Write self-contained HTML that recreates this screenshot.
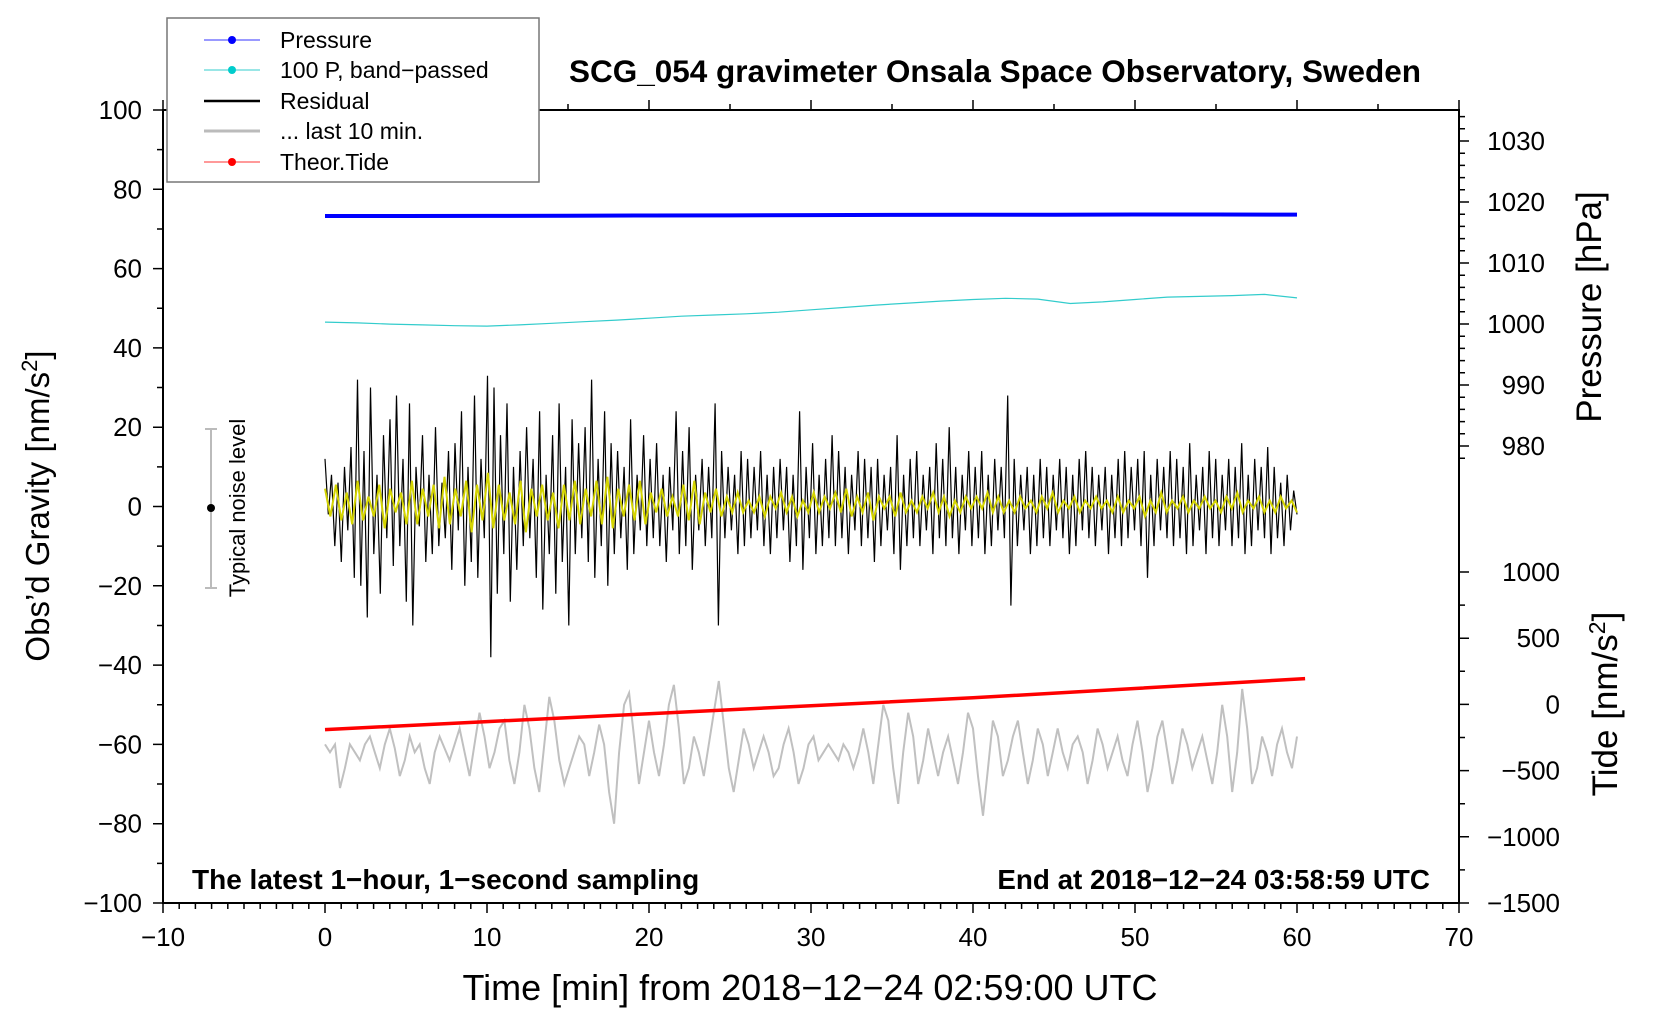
<!DOCTYPE html>
<html><head><meta charset="utf-8"><style>
html,body{margin:0;padding:0;background:#fff;}
svg{display:block;font-family:"Liberation Sans",sans-serif;}
</style></head><body>
<svg id="chart" width="1660" height="1020" viewBox="0 0 1660 1020" xmlns="http://www.w3.org/2000/svg">
<rect width="1660" height="1020" fill="#fff"/>
<g id="marks"></g>
<g id="axes"></g>
<text x="995" y="82" text-anchor="middle" font-size="31.5" font-weight="bold">SCG_054 gravimeter Onsala Space Observatory, Sweden</text>
<text x="810" y="1000" text-anchor="middle" font-size="36">Time [min] from 2018−12−24 02:59:00 UTC</text>
<text transform="translate(49,506) rotate(-90)" text-anchor="middle" font-size="33">Obs’d Gravity [nm/s<tspan dy="-12" font-size="22">2</tspan><tspan dy="12">]</tspan></text>
<text transform="translate(1601,307) rotate(-90)" text-anchor="middle" font-size="35">Pressure [hPa]</text>
<text transform="translate(1617,704) rotate(-90)" text-anchor="middle" font-size="35">Tide [nm/s<tspan dy="-12" font-size="23">2</tspan><tspan dy="12">]</tspan></text>
<text x="192" y="889" font-size="28" font-weight="bold">The latest 1−hour, 1−second sampling</text>
<text x="1430" y="889" text-anchor="end" font-size="27.8" font-weight="bold">End at 2018−12−24 03:58:59 UTC</text>
<g>
<line x1="211" y1="429" x2="211" y2="588" stroke="#bbb" stroke-width="2"/>
<line x1="205" y1="429" x2="217" y2="429" stroke="#bbb" stroke-width="2"/>
<line x1="205" y1="588" x2="217" y2="588" stroke="#bbb" stroke-width="2"/>
<circle cx="211" cy="508" r="4" fill="#000"/>
<text transform="translate(245,508) rotate(-90)" text-anchor="middle" font-size="22">Typical noise level</text>
</g>
<g>
<rect x="167" y="18" width="372" height="164" fill="#fff" stroke="#777" stroke-width="1.5"/>
<g><line x1="204" y1="40" x2="260" y2="40" stroke="#3333ff" stroke-width="1"/><circle cx="232" cy="40" r="4" fill="#0000ff"/><text x="280" y="48" font-size="23">Pressure</text></g>
<g><line x1="204" y1="70" x2="260" y2="70" stroke="#33cccc" stroke-width="1"/><circle cx="232" cy="70" r="4" fill="#00cccc"/><text x="280" y="78" font-size="23">100 P, band−passed</text></g>
<g><line x1="204" y1="101" x2="260" y2="101" stroke="#000" stroke-width="2.5"/><text x="280" y="109" font-size="23">Residual</text></g>
<g><line x1="204" y1="131" x2="260" y2="131" stroke="#bbb" stroke-width="3"/><text x="280" y="139" font-size="23">... last 10 min.</text></g>
<g><line x1="204" y1="162" x2="260" y2="162" stroke="#ff3333" stroke-width="1"/><circle cx="232" cy="162" r="4" fill="#ff0000"/><text x="280" y="170" font-size="23">Theor.Tide</text></g>
</g>
</svg>
<script>
const xTicks=[-10,0,10,20,30,40,50,60,70];
const yTicks=[-100,-80,-60,-40,-20,0,20,40,60,80,100];
const pTicks=[980,990,1000,1010,1020,1030];
const tTicks=[-1500,-1000,-500,0,500,1000];
const pressure=[1017.7,1017.7,1017.72,1017.75,1017.78,1017.8,1017.85,1017.88,1017.9,1017.9,1017.95,1017.95,1017.93];
const bandpassed=[46.5,46.3,46,45.8,45.6,45.5,45.8,46.2,46.6,47,47.5,48,48.3,48.6,49,49.6,50.2,50.8,51.3,51.8,52.2,52.5,52.3,51.2,51.6,52.2,52.8,53,53.2,53.5,52.6];
const residual=[12,-2,8,-10,6,-14,10,-6,15,-18,32,-20,14,-28,30,-12,8,-22,18,-8,22,-15,28,-10,12,-24,26,-30,10,-5,18,-14,8,-12,20,-10,6,-8,14,-16,16,-6,24,-20,10,-14,28,-18,12,-8,33,-38,30,-22,18,-12,26,-24,10,-16,14,-10,20,-8,12,-18,24,-26,8,-12,18,-22,26,-14,10,-30,22,-12,16,-8,20,-14,32,-18,12,-10,24,-20,16,-12,14,-8,10,-16,22,-12,8,-6,18,-10,
12,-8,16,-10,8,-14,10,-6,24,-12,14,-10,20,-16,8,-6,12,-10,10,-8,26,-30,14,-8,10,-6,8,-12,14,-10,12,-8,10,-6,14,-10,8,-12,10,-8,12,-6,10,-14,8,-10,24,-16,10,-8,16,-12,8,-10,12,-8,18,-10,14,-8,10,-12,8,-6,14,-10,12,-8,10,-14,12,-10,8,-6,10,-12,18,-16,8,-10,12,-8,14,-10,8,-6,10,-12,16,-8,12,-10,20,-8,10,-12,8,-6,14,-10,
10,-8,14,-12,8,-10,12,-6,10,-8,28,-25,12,-10,8,-6,10,-12,8,-10,12,-8,10,-10,8,-6,12,-8,10,-12,8,-10,12,-6,14,-8,10,-10,8,-6,10,-12,8,-8,12,-10,14,-8,10,-6,12,-10,14,-18,8,-10,12,-6,10,-8,14,-10,12,-8,10,-12,16,-10,8,-6,10,-12,14,-8,12,-10,8,-6,12,-10,10,-8,16,-12,8,-10,12,-6,10,-8,15,-12,10,-8,6,-10,8,-6,4,-2];
const smoothed=[4,-3,5,-4,3,-5,6,-4,2,-3,5,-6,4,-2,3,-5,6,-5,4,-3,5,-6,7,-5,4,-3,6,-7,5,-4,8,-6,5,-4,3,-5,6,-7,4,-3,5,-4,3,-6,5,-4,6,-5,4,-3,6,-5,7,-6,4,-3,5,-4,6,-5,
3,-2,4,-3,2,-3,5,-4,6,-5,3,-2,4,-3,2,-2,3,-2,1,-2,2,-3,2,-1,3,-2,2,-3,1,-2,3,-2,2,-1,3,-2,4,-3,2,-2,3,-4,2,-1,2,-3,3,-2,1,-2,2,-1,3,-2,2,-3,1,-2,2,-1,
2,-1,3,-2,2,-2,1,-2,2,-1,1,-2,2,-1,3,-2,1,-1,2,-2,1,-1,2,-1,1,-2,2,-2,1,-1,2,-3,1,-2,3,-2,1,-1,2,-2,1,-1,2,-1,1,-2,2,-1,3,-2,1,-1,2,-2,1,-2,2,-1,1,-2];
const last10=[-60,-62,-60,-71,-66,-60,-62,-64,-60,-58,-62,-66,-60,-56,-61,-68,-64,-58,-62,-60,-66,-70,-62,-58,-61,-64,-60,-56,-62,-68,-60,-52,-58,-66,-62,-56,-54,-64,-70,-62,-50,-56,-66,-72,-60,-48,-54,-64,-70,-66,-62,-58,-60,-68,-62,-55,-60,-72,-80,-62,-50,-47,-58,-70,-62,-54,-62,-68,-60,-50,-45,-56,-70,-66,-58,-62,-68,-60,-52,-44,-55,-66,-72,-64,-56,-60,-66,-62,-58,-62,-68,-66,-60,-56,-62,-70,-66,-60,-58,-64,-62,-60,-62,-64,-60,-62,-66,-62,-56,-62,-70,-60,-50,-54,-66,-75,-62,-52,-58,-70,-64,-56,-62,-68,-62,-58,-64,-70,-62,-52,-56,-68,-78,-66,-54,-58,-68,-64,-58,-54,-62,-70,-64,-56,-60,-68,-62,-56,-62,-66,-60,-58,-62,-70,-64,-56,-60,-66,-62,-58,-64,-68,-60,-54,-62,-72,-66,-58,-54,-62,-70,-64,-56,-60,-66,-62,-58,-64,-70,-62,-50,-58,-72,-62,-46,-56,-70,-66,-58,-62,-68,-60,-56,-62,-66,-58];
const tideTimes=[0,10,20,30,40,50,60.5];
const tide=[-190,-130,-70,-10,50,120,195];

const L=163,R=1459,T=110,B=903;
const sx=v=>L+(v+10)*(R-L)/80;
const sy=v=>B-(v+100)*(B-T)/200;
const sp=v=>324-(v-1000)*6.1;
const st=v=>B-(v+1500)*0.1324;
const NS='http://www.w3.org/2000/svg';
const marks=document.getElementById('marks'),axes=document.getElementById('axes');
function mk(tag,attrs,parent){const e=document.createElementNS(NS,tag);for(const k in attrs)e.setAttribute(k,attrs[k]);parent.appendChild(e);return e;}
function series(vals,t0,t1,fy){return vals.map((v,i)=>sx(t0+(t1-t0)*i/(vals.length-1)).toFixed(1)+','+fy(v).toFixed(1)).join(' ');}

let e;
e=mk('polyline',{points:series(last10,0,60,sy),fill:'none',stroke:'#c0c0c0','stroke-width':2},marks);


e=mk('polyline',{points:tide.map((v,i)=>sx(tideTimes[i]).toFixed(1)+','+st(v).toFixed(1)).join(' '),fill:'none',stroke:'#ff0000','stroke-width':3.5},marks);


e=mk('polyline',{points:series(residual,0,60,sy),fill:'none',stroke:'#000','stroke-width':1.2},marks);


e=mk('polyline',{points:series(smoothed,0,60,v=>sy(v+0.5)),fill:'none',stroke:'#d4d400','stroke-width':2},marks);


e=mk('polyline',{points:series(bandpassed,0,60,sy),fill:'none',stroke:'#33cccc','stroke-width':1.2},marks);


e=mk('polyline',{points:series(pressure,0,60,sp),fill:'none',stroke:'#0000ff','stroke-width':4},marks);



e=mk('rect',{x:L,y:T,width:R-L,height:B-T,fill:'none',stroke:'#000','stroke-width':2},axes);


let d='';
for(let m=-10;m<=70;m++){const x=sx(m);d+=`M${x},${B}v${m%10===0?10:6}`; if(m%5===0) d+=`M${x},${T}v-${m%10===0?10:6}`;}
for(let v=-100;v<=100;v+=10){d+=`M${L},${sy(v)}h-${v%20===0?10:6}`;}
for(let p=976;p<=1036;p+=2){const y=sp(p);if(y>=T&&y<=470)d+=`M${R},${y}h${p%10===0?10:6}`;}
for(let t=-1500;t<=1000;t+=250){d+=`M${R},${st(t)}h${t%500===0?10:6}`;}
e=mk('path',{d:d,stroke:'#000','stroke-width':1.5,fill:'none'},axes);


xTicks.forEach(v=>{const t=mk('text',{x:sx(v),y:946,'text-anchor':'middle','font-size':26},axes);t.textContent=String(v).replace('-','−');

});
yTicks.forEach(v=>{const t=mk('text',{x:142,y:sy(v)+9,'text-anchor':'end','font-size':26},axes);t.textContent=String(v).replace('-','−');

});
pTicks.forEach(v=>{const t=mk('text',{x:1545,y:sp(v)+9,'text-anchor':'end','font-size':26},axes);t.textContent=String(v);

});
tTicks.forEach(v=>{const t=mk('text',{x:1560,y:st(v)+9,'text-anchor':'end','font-size':26},axes);t.textContent=String(v).replace('-','−');

});
</script>
</body></html>
